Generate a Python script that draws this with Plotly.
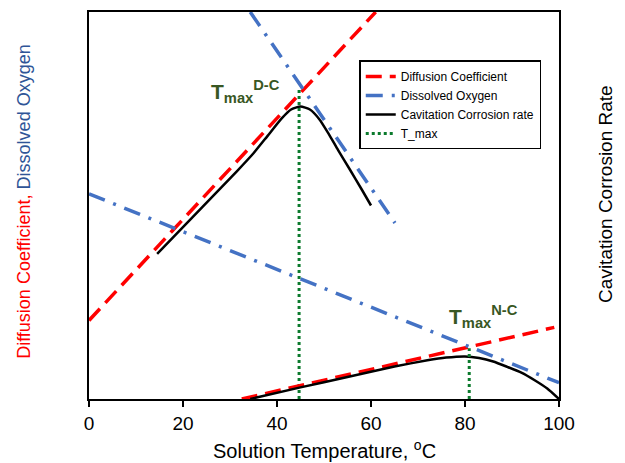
import plotly.graph_objects as go

# ---- data (x: solution temperature in degC, y: relative scale 0-100) ----
temp_diff_dc = [0, 61]
diff_dc = [20.3, 100]
temp_do_dc = [34.3, 65.1]
do_dc = [100, 45.5]
temp_cc_dc = [14.5, 31.5, 35, 38, 41, 43, 45, 47, 49, 51, 53, 55.5, 58, 60]
cc_dc = [37.5, 58.9, 63.5, 68, 72.5, 74.8, 75.6, 74.8, 72.3, 68.5, 64.3, 59.3, 54.2, 50]

temp_diff_nc = [32.5, 99]
diff_nc = [0, 18.5]
temp_do_nc = [0, 100]
do_nc = [53, 4.2]
temp_cc_nc = [34.3, 45, 55, 65, 72, 76, 80, 83, 86, 89, 92, 95, 97.5, 100]
cc_nc = [0, 3, 5.7, 8.4, 10, 10.7, 11, 10.6, 9.7, 8.3, 6.8, 4.7, 2.7, 0]

tmax_temps = [44.7, 80.9]
tmax_tops = [80, 13.1]

x_ticks = [0, 20, 40, 60, 80, 100]

RED = "#ff0000"
BLUE = "#4472c4"
GREEN = "#0b7a2c"
LABEL_GREEN = "#385723"
FONT = "Liberation Sans, Arial, sans-serif"

red_dash = dict(color=RED, width=3.5, dash="16px,8px")
blue_dash = dict(color=BLUE, width=3.5, dash="17px,9px,3px,9px")
black_line = dict(color="black", width=2.5, shape="spline", smoothing=0.5)
green_dot = dict(color=GREEN, width=3, dash="3px,3px")

fig = go.Figure()
fig.add_trace(go.Scatter(x=temp_diff_dc, y=diff_dc, mode="lines", line=red_dash,
                         name="Diffusion Coefficient", legendgroup="d"))
fig.add_trace(go.Scatter(x=temp_do_dc, y=do_dc, mode="lines", line=blue_dash,
                         name="Dissolved Oxygen", legendgroup="o"))
fig.add_trace(go.Scatter(x=temp_cc_dc, y=cc_dc, mode="lines", line=black_line,
                         name="Cavitation Corrosion rate", legendgroup="c"))
fig.add_trace(go.Scatter(x=[tmax_temps[0], tmax_temps[0]], y=[0, tmax_tops[0]], mode="lines",
                         line=green_dot, name="T_max", legendgroup="t"))
fig.add_trace(go.Scatter(x=temp_diff_nc, y=diff_nc, mode="lines", line=red_dash,
                         legendgroup="d", showlegend=False))
fig.add_trace(go.Scatter(x=temp_do_nc, y=do_nc, mode="lines", line=blue_dash,
                         legendgroup="o", showlegend=False))
fig.add_trace(go.Scatter(x=temp_cc_nc, y=cc_nc, mode="lines", line=black_line,
                         legendgroup="c", showlegend=False))
fig.add_trace(go.Scatter(x=[tmax_temps[1], tmax_temps[1]], y=[0, tmax_tops[1]], mode="lines",
                         line=green_dot, legendgroup="t", showlegend=False))

annotations = [
    dict(x=25.5, y=79.5, xref="x", yref="y", xanchor="left", yanchor="middle", showarrow=False,
         text="<b>T<sub>max</sub><sup>D-C</sup></b>", font=dict(family=FONT, size=21, color=LABEL_GREEN)),
    dict(x=76.2, y=21.4, xref="x", yref="y", xanchor="left", yanchor="middle", showarrow=False,
         text="<b>T<sub>max</sub><sup>N-C</sup></b>", font=dict(family=FONT, size=21, color=LABEL_GREEN)),
    dict(x=-0.140, y=0.51, xref="paper", yref="paper", textangle=-90, showarrow=False,
         xanchor="center", yanchor="middle",
         text='<span style="color:#ff0000">Diffusion Coefficient, </span><span style="color:#2f5597">Dissolved Oxygen</span>',
         font=dict(family=FONT, size=18)),
    dict(x=1.10, y=0.53, xref="paper", yref="paper", textangle=-90, showarrow=False,
         xanchor="center", yanchor="middle", text="Cavitation Corrosion Rate",
         font=dict(family=FONT, size=19, color="black")),
    dict(x=0.501, y=-0.131, xref="paper", yref="paper", showarrow=False,
         xanchor="center", yanchor="middle", text="Solution Temperature, <sup>o</sup>C",
         font=dict(family=FONT, size=20, color="black")),
]

fig.update_layout(
    width=625, height=463,
    margin=dict(l=89, r=66, t=10, b=64),
    paper_bgcolor="white", plot_bgcolor="white",
    font=dict(family=FONT, color="black"),
    annotations=annotations,
    legend=dict(x=0.575, y=0.875, xanchor="left", yanchor="top",
                bgcolor="white", bordercolor="black", borderwidth=1.5,
                font=dict(family=FONT, size=12, color="black"),
                tracegroupgap=0, itemwidth=30),
    xaxis=dict(range=[0, 100], tickvals=x_ticks, ticktext=[str(v) for v in x_ticks],
               showline=True, linecolor="black", linewidth=2, mirror=True,
               ticks="outside", ticklen=6, tickwidth=1.5, tickcolor="black",
               tickfont=dict(family=FONT, size=19, color="black"),
               showgrid=False, zeroline=False),
    yaxis=dict(range=[0, 100], showticklabels=False, ticks="",
               showline=True, linecolor="black", linewidth=2, mirror=True,
               showgrid=False, zeroline=False),
)

fig.write_html("out.html")
